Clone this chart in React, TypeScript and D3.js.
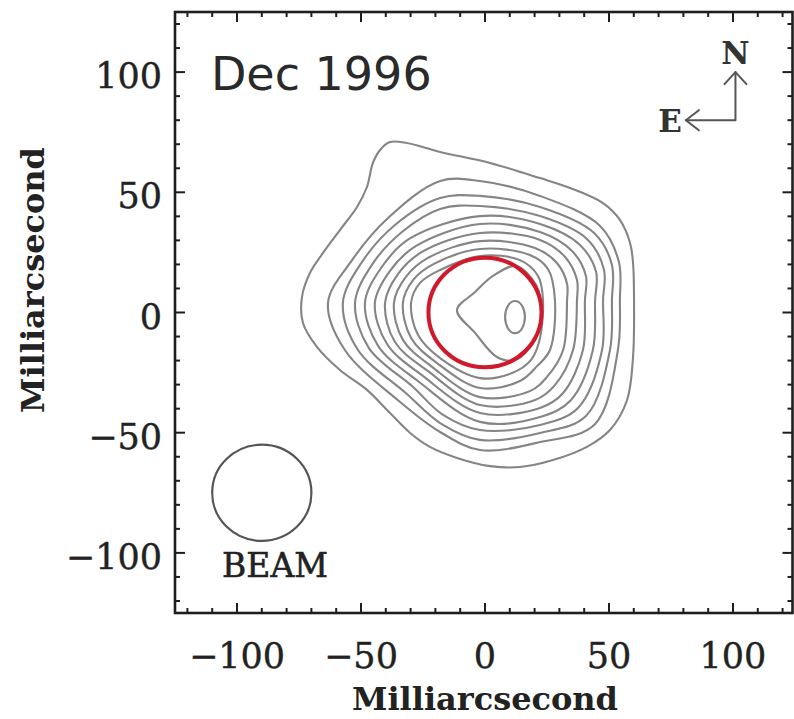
import React from "react";
import * as d3 from "d3";

const W = 794;
const H = 719;

// Axis ticks (milliarcseconds)
const xTickValues = [-100, -50, 0, 50, 100];
const xTickLabels = ["−100", "−50", "0", "50", "100"];
const yTickValues = [100, 50, 0, -50, -100];
const yTickLabels = ["100", "50", "0", "−50", "−100"];
const minorTickValues = d3.range(-120, 121, 10);

// Contour levels, outermost first: [RA offset, Dec offset] in mas
const contour1: [number, number][] = [
  [-38.3, 70.9], [-31.5, 70.5], [-18.1, 66.8], [2.0, 62.2], [22.2, 55.9], [34.3, 51.8],
  [47.6, 45.5], [54.4, 38.5], [58.5, 28.9], [59.7, 20.6], [60.1, 5.2], [59.7, -18.5],
  [57.3, -36.4], [50.4, -48.9], [41.1, -55.9], [27.4, -61.4], [14.1, -64.3], [2.0, -63.9],
  [-11.3, -60.5], [-22.2, -55.9], [-30.2, -50.1], [-38.3, -41.8], [-47.6, -32.2],
  [-58.5, -23.9], [-67.7, -14.4], [-73.4, -4.4], [-73.8, 6.4], [-70.6, 16.4],
  [-65.3, 24.8], [-58.5, 34.3], [-51.6, 43.9], [-47.6, 52.2], [-45.2, 62.2], [-42.3, 67.6],
];
const contour2: [number, number][] = [
  [-18.1, 54.7], [-2.0, 54.7], [22.2, 48.5], [46.4, 36.0], [54.0, 21.0], [54.4, 5.2],
  [53.6, -15.6], [44.2, -46.6], [22.2, -53.9], [-2.0, -57.2], [-18.1, -49.7],
  [-34.7, -36.8], [-56.5, -15.6], [-63.3, 4.0], [-53.6, 21.8], [-39.1, 39.3],
];
const contour3: [number, number][] = [
  [-18.1, 47.6], [-2.0, 48.5], [22.2, 43.9], [44.0, 33.1], [51.2, 19.8], [51.2, 5.2],
  [50.4, -15.6], [40.7, -43.1], [22.2, -50.1], [-2.0, -53.0], [-18.1, -46.0],
  [-31.7, -33.7], [-51.2, -15.6], [-57.3, 4.0], [-49.6, 21.0], [-36.3, 36.4],
];
const contour4: [number, number][] = [
  [-18.1, 43.1], [-2.0, 44.3], [22.2, 40.1], [41.1, 30.6], [48.0, 17.7], [47.6, 5.2],
  [47.2, -15.6], [37.5, -39.7], [22.2, -46.8], [-2.0, -48.9], [-16.9, -42.6],
  [-29.0, -31.0], [-46.8, -14.8], [-52.4, 4.0], [-45.6, 19.8], [-33.5, 33.5],
];
const contour5: [number, number][] = [
  [-2.0, 40.1], [22.2, 36.8], [38.3, 28.1], [44.8, 16.8], [44.4, 5.2], [43.5, -15.6],
  [34.5, -36.6], [22.2, -43.5], [-2.0, -45.5], [-26.8, -28.7], [-43.1, -13.9],
  [-48.4, 4.0], [-41.9, 18.5], [-30.6, 30.6],
];
const contour6: [number, number][] = [
  [-2.0, 36.8], [22.2, 33.5], [35.1, 25.6], [40.7, 15.2], [40.3, 5.2], [39.5, -15.6],
  [31.5, -33.5], [22.2, -39.7], [-2.0, -41.8], [-24.8, -26.6], [-39.5, -13.1],
  [-44.4, 4.0], [-38.3, 17.3], [-27.8, 27.7],
];
const contour7: [number, number][] = [
  [-2.0, 33.1], [22.2, 30.2], [32.3, 23.1], [37.1, 13.5], [37.1, 5.2], [35.5, -15.6],
  [28.2, -30.2], [20.2, -36.4], [-2.0, -38.5], [-22.8, -24.5], [-36.3, -12.3],
  [-40.3, 4.0], [-35.1, 16.0], [-25.4, 25.2],
];
const contour8: [number, number][] = [
  [-2.0, 29.7], [20.2, 26.8], [29.0, 20.6], [33.1, 11.9], [33.1, 5.2], [31.5, -15.6],
  [25.0, -26.8], [18.1, -32.7], [-2.0, -35.2], [-21.1, -22.8], [-33.1, -11.4],
  [-36.7, 4.0], [-31.9, 14.8], [-23.0, 22.7],
];
const contour9: [number, number][] = [
  [-2.0, 26.4], [18.1, 23.9], [25.4, 18.1], [28.2, 5.2], [26.2, -15.6], [21.0, -22.3],
  [14.1, -28.5], [-2.0, -31.4], [-19.4, -21.0], [-29.8, -10.6], [-33.1, 4.0],
  [-29.0, 13.5], [-20.6, 20.2],
];
const contour10: [number, number][] = [
  [-2.0, 23.5], [14.1, 21.8], [21.4, 15.2], [23.4, 5.2], [21.8, -12.3], [18.5, -19.8],
  [10.9, -25.2], [-2.0, -27.3], [-17.7, -19.3], [-27.0, -9.4], [-29.8, 4.0],
  [-26.2, 12.3], [-18.1, 17.7],
];
const contour11: [number, number][] = [
  [-11.3, 1.0], [-4.0, 8.5], [3.2, 15.2], [12.5, 19.3], [20.6, 11.4], [22.6, 0.2],
  [20.2, -11.4], [12.1, -19.8], [4.8, -18.5], [-4.0, -8.5],
];
// Peak: [x, y, semi-axis x, semi-axis y]
const peakContour = [12.1, -1.9, 4.0, 6.7];

const contours = [
  contour1, contour2, contour3, contour4, contour5, contour6,
  contour7, contour8, contour9, contour10, contour11,
];

// Marked source position and restoring beam: [x, y, radius]
const sourceCircle = [0, 0, 22.8];
const beamCircle = [-90, -75, 20];

export default function App() {
  const x = d3.scaleLinear().domain([-125, 124]).range([175, 792.5]);
  const y = d3.scaleLinear().domain([-125, 125]).range([613, 12]);

  const line = d3
    .line<[number, number]>()
    .x((d) => x(d[0]))
    .y((d) => y(d[1]))
    .curve(d3.curveCatmullRomClosed.alpha(0.5));

  const kx = (v: number) => x(v) - x(0);
  const ky = (v: number) => y(0) - y(v);

  const [x0, x1] = x.domain();
  const [y0, y1] = y.domain();
  const left = x(x0);
  const right = x(x1);
  const top = y(y1);
  const bottom = y(y0);

  const majorLen = 10;
  const minorLen = 5;
  const tickColor = "#1e1e1e";

  const serif = "'DejaVu Serif', serif";

  const compass = { x: 101, y: 80, len: 20 };

  return (
    <svg
      width={W}
      height={H}
      style={{ position: "absolute", left: 0, top: 0, background: "#fff" }}
    >
      <rect x={0} y={0} width={W} height={H} fill="#fff" />

      {/* contour map */}
      <g fill="none" stroke="#858585" strokeWidth={2.1} strokeLinejoin="round">
        {contours.map((c, i) => (
          <path key={i} d={line(c) || ""} />
        ))}
        <ellipse
          cx={x(peakContour[0])}
          cy={y(peakContour[1])}
          rx={kx(peakContour[2])}
          ry={ky(peakContour[3])}
        />
      </g>

      {/* source position */}
      <ellipse
        cx={x(sourceCircle[0])}
        cy={y(sourceCircle[1])}
        rx={kx(sourceCircle[2])}
        ry={ky(sourceCircle[2])}
        fill="none"
        stroke="#d0192b"
        strokeWidth={4}
      />

      {/* beam */}
      <ellipse
        cx={x(beamCircle[0])}
        cy={y(beamCircle[1])}
        rx={kx(beamCircle[2])}
        ry={ky(beamCircle[2])}
        fill="none"
        stroke="#555"
        strokeWidth={2.2}
      />
      <text
        x={x(-106)}
        y={y(-110)}
        fontFamily={serif}
        fontSize={33}
        fill="#222"
        stroke="#222"
        strokeWidth={0.6}
      >
        BEAM
      </text>

      {/* epoch */}
      <text x={x(-110.5)} y={y(92.5)} fontFamily="'DejaVu Sans', sans-serif" fontSize={46} fill="#2a2a2a">
        Dec 1996
      </text>

      {/* orientation */}
      <g stroke="#555" strokeWidth={2} fill="none" strokeLinecap="round" strokeLinejoin="round">
        <path
          d={`M${x(compass.x - compass.len)},${y(compass.y)} L${x(compass.x)},${y(compass.y)} L${x(compass.x)},${y(compass.y + compass.len)}`}
        />
        <path
          d={`M${x(compass.x - compass.len) + 13},${y(compass.y) - 10} L${x(compass.x - compass.len)},${y(compass.y)} L${x(compass.x - compass.len) + 13},${y(compass.y) + 10}`}
        />
        <path
          d={`M${x(compass.x) - 11},${y(compass.y + compass.len) + 12} L${x(compass.x)},${y(compass.y + compass.len)} L${x(compass.x) + 11},${y(compass.y + compass.len) + 12}`}
        />
      </g>
      <text
        x={x(compass.x)}
        y={y(compass.y + compass.len) - 8}
        textAnchor="middle"
        fontFamily={serif}
        fontWeight="bold"
        fontSize={31}
        fill="#333"
      >
        N
      </text>
      <text
        x={x(compass.x - compass.len) - 4}
        y={y(compass.y) + 12}
        textAnchor="end"
        fontFamily={serif}
        fontWeight="bold"
        fontSize={31}
        fill="#333"
      >
        E
      </text>

      {/* frame */}
      <rect
        x={left}
        y={top}
        width={right - left}
        height={bottom - top}
        fill="none"
        stroke={tickColor}
        strokeWidth={2.6}
      />

      {/* ticks */}
      <g stroke={tickColor} strokeWidth={2}>
        {minorTickValues.map((v) => {
          const len = xTickValues.includes(v) ? majorLen : minorLen;
          return (
            <g key={"x" + v}>
              <line x1={x(v)} x2={x(v)} y1={bottom} y2={bottom - len} />
              <line x1={x(v)} x2={x(v)} y1={top} y2={top + len} />
            </g>
          );
        })}
        {minorTickValues.map((v) => {
          const len = yTickValues.includes(v) ? majorLen : minorLen;
          return (
            <g key={"y" + v}>
              <line x1={left} x2={left + len} y1={y(v)} y2={y(v)} />
              <line x1={right} x2={right - len} y1={y(v)} y2={y(v)} />
            </g>
          );
        })}
      </g>

      {/* tick labels */}
      <g fontFamily={serif} fontSize={35} fill="#222" stroke="#222" strokeWidth={0.4}>
        {xTickValues.map((v, i) => (
          <text key={"xl" + v} x={x(v)} y={668} textAnchor="middle">
            {xTickLabels[i]}
          </text>
        ))}
        {yTickValues.map((v, i) => (
          <text key={"yl" + v} x={162} y={y(v) + 16} textAnchor="end">
            {yTickLabels[i]}
          </text>
        ))}
      </g>

      {/* axis titles */}
      <text
        x={x(0)}
        y={710}
        textAnchor="middle"
        fontFamily={serif}
        fontWeight="bold"
        fontSize={32}
        fill="#222"
      >
        Milliarcsecond
      </text>
      <text
        transform={`translate(44,280) rotate(-90)`}
        textAnchor="middle"
        fontFamily={serif}
        fontWeight="bold"
        fontSize={32}
        fill="#222"
      >
        Milliarcsecond
      </text>
    </svg>
  );
}
